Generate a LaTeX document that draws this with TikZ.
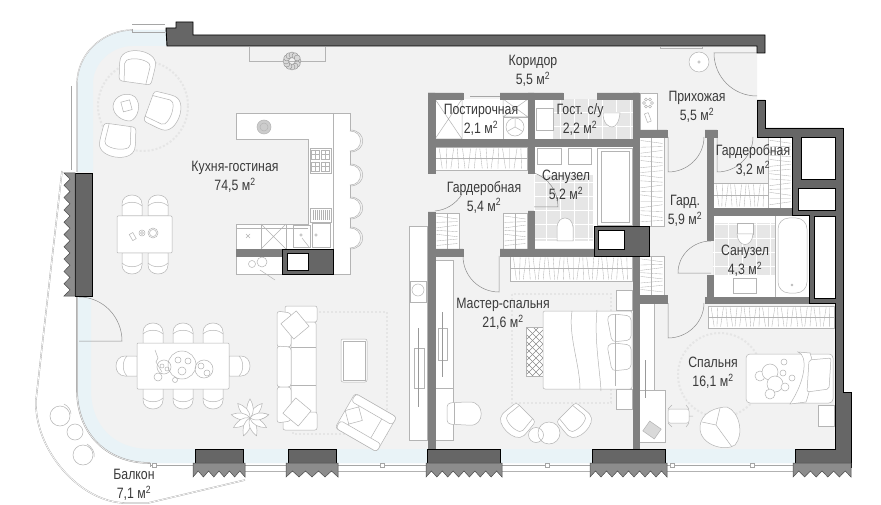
\documentclass[tikz,border=0pt]{standalone}
\usepackage{fontspec}
\setmainfont[FakeStretch=0.82]{Liberation Sans}
\definecolor{floorgrey}{HTML}{F2F2F2}
\definecolor{glassblue}{HTML}{E9F3F7}
\definecolor{walldark}{HTML}{666666}
\definecolor{wallmid}{HTML}{808080}
\definecolor{zigfill}{HTML}{8C8C8C}
\definecolor{tilegrey}{HTML}{E6E6E6}
\definecolor{furnline}{HTML}{B4B4B4}
\definecolor{textgrey}{HTML}{3A3A3A}
\newcommand{\kvm}{м\textsuperscript{2}}
\tikzset{
  outerwall/.style={fill=walldark,draw=black,line width=0.9pt},
  innerwall/.style={fill=wallmid,draw=wallmid,line width=0.3pt},
  zigwall/.style={fill=zigfill,draw=black!70,line width=0.5pt},
  furn/.style={draw=furnline,line width=0.5pt},
  cab/.style={furn,fill=white},
  hanger/.style={draw=furnline,line width=0.35pt},
  rugline/.style={draw=black!10,line width=2pt,dotted},
  glass/.style={draw=black!35,line width=0.6pt},
  doorline/.style={draw=black!45,line width=0.5pt},
  lbl/.style={text=textgrey,align=center,inner sep=0pt,font=\fontsize{15}{19}\selectfont},
  pics/dinechair/.style={code={
    \draw[cab] (-10,11) -- (-10,-1) .. controls (-10,-13) and (10,-13) .. (10,-1) -- (10,11) -- cycle;
    \draw[furn] (-10,1) .. controls (-5,-4) and (5,-4) .. (10,1);
  }},
  pics/armchair/.style={code={
    \draw[cab,rounded corners=3pt] (-16,15) -- (-18,-3) .. controls (-17,-21) and (17,-21) .. (18,-3) -- (16,15) -- cycle;
    \draw[furn,rounded corners=2pt] (-11,15) -- (-13,-5) .. controls (-6,-10) and (6,-10) .. (13,-5) -- (11,15);
  }},
  pics/stool/.style={code={
    \draw[cab] (0,-10) .. controls (14,-10) and (14,10) .. (0,10);
    \draw[furn] (0,-11) .. controls (17,-11) and (17,11) .. (0,11);
  }},
}
% walls with teeth on the outside
\newcommand{\zigdown}[3]{%
  \pgfmathsetmacro{\stp}{(#2-#1)/#3}
  \draw[zigwall] (#1,463) -- (#2,463) -- (#2,477)
    \foreach \k in {1,...,#3}{ -- ({#2-(\k-.5)*\stp},471) -- ({#2-\k*\stp},477)} -- cycle;
}
% wardrobes, hangers across or along
\newcommand{\closetv}[5]{%
  \draw[cab] (#1,#2) rectangle (#3,#4);
  \draw[hanger] (#1,{(#2+#4)/2}) -- (#3,{(#2+#4)/2});
  \foreach \k in {1,...,#5}
    \draw[hanger] ({#1+\k*(#3-#1)/(#5+1)-1.5*sin(\k*97)},#2+1.5) -- ({#1+\k*(#3-#1)/(#5+1)+1.5*sin(\k*97)},#4-1.5);
}
\newcommand{\closeth}[5]{%
  \draw[cab] (#1,#2) rectangle (#3,#4);
  \draw[hanger] ({(#1+#3)/2},#2) -- ({(#1+#3)/2},#4);
  \foreach \k in {1,...,#5}
    \draw[hanger] (#1+1.5,{#2+\k*(#4-#2)/(#5+1)-1.5*sin(\k*97)}) -- (#3-1.5,{#2+\k*(#4-#2)/(#5+1)+1.5*sin(\k*97)});
}
\begin{document}
\begin{tikzpicture}[x=1pt,y=-1pt]
  \useasboundingbox (0,0) rectangle (881,505);
  \fill[white] (0,0) rectangle (881,505);

  % balcony
  \draw[black!35,line width=1.4pt] (62,171) -- (36,400) .. controls (34,450) and (80,502) .. (125,503) -- (148,503) -- (245,480);
  \draw[white,line width=0.7pt] (62,171) -- (36,400) .. controls (34,450) and (80,502) .. (125,503) -- (148,503) -- (245,480);
  \foreach \x/\y/\r in {60/416/10,75/432/8,83/455/10}
    \draw[furn] (\x,\y) circle (\r);
  \draw[furn] (64,404) .. controls (68,406) and (71,410) .. (71,414);
  \draw[furn] (87,444) .. controls (92,447) and (95,452) .. (94,457);

  % floor and the band along the glass
  \fill[floorgrey] (132,30) -- (167,30) -- (167,46) -- (757,46) -- (757,137) -- (835,137) -- (835,450) -- (795,450) -- (795,463)
    -- (150,463) .. controls (105,463) and (77,432) .. (77,390) -- (77,84) .. controls (77,52) and (105,30) .. (132,30) -- cycle;
  \begin{scope}
    \clip (132,30) -- (167,30) -- (167,46) -- (757,46) -- (757,137) -- (835,137) -- (835,450) -- (795,450) -- (795,463)
    -- (150,463) .. controls (105,463) and (77,432) .. (77,390) -- (77,84) .. controls (77,52) and (105,30) .. (132,30) -- cycle;
    \draw[glassblue,line width=32pt] (77,172) -- (77,84) .. controls (77,52) and (105,30) .. (132,30) -- (170,30);
    \draw[glassblue,line width=28pt] (77,296) -- (77,390) .. controls (77,432) and (105,463) .. (150,463) -- (795,463);
  \end{scope}

  % rugs
  \draw[rugline] (143,106) circle (45);
  \draw[rugline] (293,312) rectangle (387,434);
  \draw[rugline] (512,294) rectangle (611,403);
  \draw[rugline] (720,375) circle (42);

  % white rooms and tiles
  \fill[white] (435,99) rectangle (528,139);
  \fill[white] (534,99) rectangle (633,139);
  \fill[white] (534,146) rectangle (633,249);
  \fill[white] (713,215) rectangle (809,297);
  \fill[tilegrey] (553,99) rectangle (633,139);
  \fill[tilegrey] (535,175) rectangle (593,241);
  \fill[tilegrey] (713,223) rectangle (776,275);
  \draw[white,line width=0.4pt,step=14pt] (553,99) grid (633,139);
  \draw[white,line width=0.4pt,step=14pt] (535,175) grid (593,241);
  \draw[white,line width=0.4pt,step=14pt] (713,223) grid (776,275);

  % lounge corner
  \pic[rotate=-8] at (137,68) {armchair};
  \pic[rotate=-110] at (163,111) {armchair};
  \pic[rotate=172] at (118,140) {armchair};
  \draw[cab] (113,106) .. controls (114,95) and (128,91) .. (135,97) .. controls (142,104) and (138,119) .. (130,121) .. controls (122,121) and (113,115) .. (113,106) -- cycle;
  \draw[furn,rotate around={15:(126,106)}] (122,101) rectangle (131,111);

  % small table
  \foreach \x in {132,158}{
    \pic at (\x,205) {dinechair};
    \pic[rotate=180] at (\x,264) {dinechair};
  }
  \draw[cab,rounded corners=1pt] (117,216) rectangle (172,253);
  \draw[furn] (153,233) circle (5) (153,233) circle (3.5) (142,233) circle (3) (142,233) circle (1.5);
  \draw[furn,rotate around={30:(133,237)}] (131,233) rectangle (135,240);

  % dining table
  \foreach \x in {153,183,213}{
    \pic at (\x,333) {dinechair};
    \pic[rotate=180] at (\x,399) {dinechair};
  }
  \pic[rotate=90] at (126,366) {dinechair};
  \pic[rotate=-90] at (240,366) {dinechair};
  \draw[cab,rounded corners=1pt] (137,343) rectangle (229,389);
  \draw[furn] (182,365) circle (14) (204,369) circle (9) (164,367) circle (7) (158,377) circle (4) (175,380) circle (2.5);
  \draw[furn] (155,350) -- (158,358) -- (156,362) -- (162,372);
  \foreach \x/\y/\r in {178/360/3,188/361/3,182/371/4,201/366/3,207/373/3,162/366/2,167/369/2}
    \draw[furn] (\x,\y) circle (\r);

  % plant
  \foreach \a in {10,50,...,370}
    \draw[furn,fill=white,rotate around={\a:(250,418)}] (250,418) .. controls (256,413) and (262,414) .. (269,418) .. controls (262,422) and (256,423) .. (250,418) -- cycle;

  % kitchen
  \draw[cab] (236,113) -- (350,113) -- (350,274) -- (236,274) -- (236,224) -- (308,224) -- (308,139) -- (236,139) -- cycle;
  \draw[furn] (333,113) -- (333,249) (236,228) -- (308,228) (261,224) -- (261,249) (286,224) -- (286,249);
  \draw[furn] (261,224) -- (286,249) (286,224) -- (261,249);
  \foreach \y in {141,175,208,238}
    \pic at (350,\y) {stool};
  \draw[furn,fill=black!20] (264,127) circle (7);
  \draw[furn] (264,127) circle (4);
  \draw[furn] (310,148) rectangle (331,173);
  \foreach \x/\y in {311/150,321/150,311/162,321/162}{
    \draw[furn] (\x,\y) rectangle ++(8,9);
    \draw[hanger] (\x,\y+4.5) -- ++(8,0) (\x+4,\y) -- ++(0,9);
  }
  \draw[furn] (310,208) rectangle (331,222);
  \foreach \x in {313,315,...,329}
    \draw[hanger] (\x,210) -- (\x,220);
  \draw[furn] (293,225) rectangle (310,247) (312,223) rectangle (330,247);
  \draw[furn] (301,235) circle (1.2) (316,235) circle (1.2) (302,238) -- (309,247);
  \draw[furn] (246,234) -- (250,238) (250,234) -- (246,238);
  \draw[furn] (252,264) circle (3.5) (262,262) circle (5) (260,270) -- (275,280);

  % sofa and armchair
  \draw[cab,rounded corners=2pt] (285,306) rectangle (317,322);
  \draw[cab,rounded corners=2pt] (291,322) rectangle (316,415);
  \draw[cab,rounded corners=2pt] (283,412) rectangle (317,430);
  \draw[cab,rounded corners=3pt] (277,311) -- (291,313) -- (291,347) -- (277,347) -- cycle;
  \draw[cab,rounded corners=3pt] (277,346) -- (291,347) -- (291,387) -- (277,387) -- cycle;
  \draw[cab,rounded corners=3pt] (277,387) -- (291,387) -- (291,421) -- (277,423) -- cycle;
  \draw[furn] (291,347) -- (316,347) (291,385) -- (316,385);
  \draw[cab,rotate around={40:(295,325)}] (285,315) rectangle (305,335);
  \draw[cab,rotate around={50:(297,412)}] (287,402) rectangle (307,422);
  \begin{scope}[rotate around={-30:(365,422)}]
    \draw[cab,rounded corners=3pt] (342,402) rectangle (390,442);
    \draw[cab,rounded corners=3pt] (343,402) rectangle (390,411);
    \draw[cab,rounded corners=3pt] (343,433) rectangle (390,442);
    \draw[furn] (352,411) -- (352,433) (378,411) -- (378,433);
    \draw[cab,rotate around={45:(352,422)}] (345,415) rectangle (359,429);
  \end{scope}
  \draw[cab,rounded corners=2pt] (341,339) rectangle (367,382);
  \draw[furn] (343,341) rectangle (365,380);

  % master bedroom
  \draw[cab] (409,226) rectangle (427,440);
  \draw[cab] (435,260) rectangle (453,388);
  \draw[cab] (435,388) rectangle (453,440);
  \draw[furn] (410,281) rectangle (426,302);
  \draw[furn] (418,290) circle (6);
  \draw[furn] (414,348) rectangle (424,388) (438,328) rectangle (447,360);
  \draw[black!40,line width=0.7pt] (418.5,328) -- (418.5,407) (442.5,312) -- (442.5,377);
  \draw[cab,rounded corners=4pt] (447,403) -- (466,402) .. controls (485,402) and (485,426) .. (466,425) -- (447,424) -- cycle;
  \draw[furn] (454,403) -- (454,424);
  \pic[rotate=135,scale=.85] at (517,421) {armchair};
  \pic[rotate=-135,scale=.85] at (575,421) {armchair};
  \draw[cab] (536,435) circle (7.5) (549,433) circle (11);
  \draw[cab] (616,290) rectangle (632,310) (616,389) rectangle (632,409);
  \begin{scope}
    \clip (526,327) rectangle (543,376);
    \fill[white] (526,327) rectangle (543,376);
    \foreach \k in {0,7,...,70}
      \draw[black!45,line width=0.4pt] (526,{320+\k}) -- (546,{340+\k}) (546,{320+\k}) -- (526,{340+\k});
  \end{scope}
  \draw[furn] (526,327) rectangle (543,376);
  \draw[cab,rounded corners=2pt] (543,311) rectangle (632,389);
  \draw[furn] (572,311) .. controls (568,335) and (580,365) .. (580,389) (597,310) .. controls (594,340) and (600,370) .. (601,391);
  \foreach \y in {316,345}
    \draw[cab,rounded corners=4pt] (607,\y) -- (614,\y-2) -- (631,\y) -- (631,\y+24) -- (612,\y+26) -- cycle;
  \draw[furn] (615,314) -- (615,386);

  % small bedroom
  \draw[cab] (639,303) rectangle (654,390);
  \draw[cab] (639,390) rectangle (665,442);
  \draw[black!40,line width=0.7pt] (645,360) -- (645,398);
  \draw[furn,fill=black!15,rotate around={-35:(652,430)}] (645,424) rectangle (659,436);
  \draw[cab,rounded corners=2pt] (668,409) rectangle (689,423);
  \draw[furn] (672,405) -- (668,409) (686,405) -- (689,409) (672,427) -- (668,423) (686,427) -- (689,423) (689,416) -- (693,416);
  \draw[cab] (700,428) .. controls (700,412) and (717,407) .. (727,407) .. controls (740,412) and (744,435) .. (735,445) .. controls (725,452) and (700,445) .. (700,428) -- cycle;
  \draw[furn] (720,408) -- (716,425) -- (732,447) (716,425) -- (702,422);
  \draw[cab] (818,405) rectangle (834,426);
  \draw[cab,rounded corners=4pt] (746,354) -- (833,354) -- (833,403) -- (746,403) -- cycle;
  \draw[cab] (798,352) .. controls (808,355) and (806,380) .. (790,404) -- (806,402) .. controls (812,385) and (815,365) .. (810,353) -- cycle;
  \draw[cab,rounded corners=2pt] (809,360) -- (831,358) -- (829,389) -- (807,392) -- cycle;
  \foreach \x/\y/\r in {760/376/5,770/372/8,775/384/8,770/394/5,783/373/3,785/387/4,792/378/3,784/362/3}
    \draw[furn,fill=white] (\x,\y) circle (\r);

  % wardrobes
  \closetv{435}{147}{527}{170}{15}
  \closetv{510}{256}{632}{281}{24}
  \closetv{713}{183}{768}{208}{11}
  \closetv{708}{306}{834}{328}{26}
  \closeth{435}{213}{459}{249}{7}
  \closeth{503}{213}{527}{249}{7}
  \closeth{639}{137}{664}{226}{17}
  \closeth{639}{256}{664}{295}{8}
  \closeth{768}{137}{792}{208}{14}

  % laundry and guest wc
  \draw[furn] (435,99) rectangle (462,139) (435,99) -- (462,139) (462,99) -- (435,139);
  \draw[furn] (503,99) rectangle (528,117) (503,99) -- (528,117) (528,99) -- (503,117);
  \draw[furn] (503,117) rectangle (528,139);
  \draw[furn] (515,127) circle (9) (515,127) -- (515,119) (515,127) -- (508,131) (515,127) -- (522,131);
  \draw[furn,line width=0.8pt] (536,108) rectangle (553,130);
  \draw[cab] (603,113) .. controls (603,124) and (609,127) .. (612,127) .. controls (616,127) and (619,122) .. (620,113) -- cycle;
  \draw[cab] (640,93) rectangle (657,130);
  \draw[furn,rotate around={20:(648,118)}] (646,113) rectangle (650,122);
  \foreach \a in {0,60,...,300}
    \draw[furn] (648,103) ++(\a:4) circle (1.5);

  % second bath rooms
  \draw[furn,line width=0.7pt] (537,148) rectangle (561,164) (568,148) rectangle (591,164);
  \draw[furn,line width=0.8pt] (597,148) rectangle (632,225);
  \draw[furn] (601,151) -- (629,151) -- (629,222) -- (601,222) -- cycle;
  \draw[cab] (557,241) -- (557,227) .. controls (558,215) and (572,215) .. (573,227) -- (573,241) -- cycle;
  \draw[cab] (737,223) rectangle (753,234);
  \draw[cab] (737,234) .. controls (738,248) and (752,248) .. (753,234) -- cycle;
  \draw[furn,line width=0.7pt] (733,278) rectangle (756,293);
  \draw[furn] (775,215) -- (775,297);
  \draw[cab,rounded corners=11pt] (778,218) rectangle (807,293);
  \draw[furn] (792,285) circle (1);

  % chandelier and lamp
  \draw[furn] (249,47) -- (249,61) -- (325,61) -- (325,47);
  \foreach \a in {0,30,...,330}
    \draw[black!45,fill=black!15,line width=0.4pt] (292,61) ++(\a:6) circle (3);
  \draw[cab] (699,62) circle (10);
  \draw[furn] (699,62) circle (1.2);
  \draw[furn] (660,47) -- (660,48) -- (702,48) -- (702,47);

  % doors
  \draw[doorline] (757,53) -- (714,53) .. controls (714,77) and (733,96) .. (757,96);
  \draw[doorline] (79,341) -- (122,341) .. controls (122,317) and (103,297) .. (79,297);
  \draw[doorline] (668,137) -- (668,172) .. controls (688,172) and (704,156) .. (704,137);
  \draw[doorline] (717,137) -- (717,172) .. controls (737,172) and (753,156) .. (753,137);
  \draw[doorline] (711,273) -- (678,273) .. controls (678,255) and (693,241) .. (711,241);
  \draw[doorline] (668,303) -- (668,338) .. controls (688,338) and (704,322) .. (704,303);
  \draw[doorline] (499,256) -- (499,292) .. controls (479,292) and (463,276) .. (463,256);
  \draw[doorline] (435,211) .. controls (446,210) and (456,204) .. (462,194);
  \draw[doorline] (534,207) -- (558,207) .. controls (558,192) and (549,178) .. (534,173);
  \draw[glass] (470,96) -- (500,96);

  % windows
  \draw[glass] (132,24) -- (165,24) (132,29) -- (132,32) -- (165,32);
  \draw[black!30,line width=1.2pt] (77,172) -- (77,84) .. controls (77,52) and (105,30) .. (132,30);
  \draw[white,line width=0.4pt] (77,172) -- (77,84) .. controls (77,52) and (105,30) .. (132,30);
  \draw[glass] (71,86) -- (71,170);
  \draw[black!35,line width=1.6pt] (77,296) -- (77,390) .. controls (77,432) and (105,463) .. (150,463);
  \draw[white,line width=0.5pt] (77,296) -- (77,390) .. controls (77,432) and (105,463) .. (150,463);
  \draw[glass] (150,465) -- (795,465) (150,467) -- (150,463);
  \draw[black!30,line width=1pt] (245,471) -- (795,471);
  \foreach \x in {152,380,545,670,750}
    \draw[glass,fill=white] (\x,463) rectangle ++(4,4);

  % walls
  \draw[innerwall] (428,93) rectangle (463,99) (500,93) rectangle (563,99) (597,93) rectangle (639,99);
  \draw[innerwall] (428,93) rectangle (435,173) (528,93) rectangle (534,173) (633,93) rectangle (639,226);
  \draw[innerwall] (428,139) rectangle (633,146);
  \draw[innerwall] (428,212) rectangle (435,450) (528,211) rectangle (534,250);
  \draw[innerwall] (428,249) rectangle (463,256) (500,249) rectangle (594,256);
  \draw[innerwall] (633,256) rectangle (639,450);
  \draw[innerwall] (639,130) rectangle (667,137) (639,295) rectangle (667,303);
  \draw[innerwall] (707,130) rectangle (713,240) (707,275) rectangle (713,297) (705,130) rectangle (717,137);
  \draw[innerwall] (713,208) rectangle (792,215);
  \draw[innerwall] (705,297) rectangle (809,303);
  \draw[outerwall] (166,28) -- (176,28) -- (176,22) -- (193,22) -- (193,35) -- (765,35) -- (765,53) -- (757,53) -- (757,46) -- (167,46) -- cycle;
  \draw[outerwall] (757,100) -- (765,100) -- (765,128) -- (843,128) -- (843,392) -- (851,392) -- (851,467) -- (795,467) -- (795,449) -- (835,449)
    -- (835,303) -- (809,303) -- (809,215) -- (792,215) -- (792,137) -- (757,137) -- cycle;
  \foreach \xa/\ya/\xb/\yb in {801/137/835/179,798/188/835/210,814/216/835/298}
    \draw[black,fill=white,line width=0.9pt] (\xa,\ya) rectangle (\xb,\yb);
  \draw[outerwall] (594,226) rectangle (649,256);
  \draw[black,fill=white,line width=0.9pt] (598,230) rectangle (624,249);
  \draw[innerwall] (236,249) rectangle (282,256);
  \draw[outerwall] (282,249) rectangle (333,274);
  \draw[black,fill=white,line width=0.9pt] (287,253) rectangle (308,270);
  \draw[outerwall] (75,173) -- (92,173) -- (92,296) -- (75,296) -- cycle;
  \draw[zigwall] (75,173) -- (64,173)
    \foreach \k in {1,...,10}{ -- (70,{173+(\k-.5)*12.3}) -- (64,{173+\k*12.3})} -- (75,296) -- cycle;
  \foreach \xa/\xb in {195/243,288/336,427/500,592/665}
    \draw[outerwall] (\xa,449) -- (\xb,449) -- (\xb,463) -- (\xa,463) -- cycle;
  \zigdown{193}{245}{5}
  \zigdown{286}{338}{4}
  \zigdown{426}{502}{7}
  \zigdown{590}{667}{7}
  \zigdown{793}{851}{5}

  % room labels
  \node[lbl] (kitchen) at (235,177) {Кухня-гостиная\\74,5 \kvm};
  \node[lbl] (corridor) at (533,71) {Коридор\\5,5 \kvm};
  \node[lbl] (laundry) at (481,120) {Постирочная\\2,1 \kvm};
  \node[lbl] (guestwc) at (580,120) {Гост. с/у\\2,2 \kvm};
  \node[lbl] (hall) at (697,107) {Прихожая\\5,5 \kvm};
  \node[lbl] (dressa) at (753,160) {Гардеробная\\3,2 \kvm};
  \node[lbl] (dressb) at (484,197) {Гардеробная\\5,4 \kvm};
  \node[lbl] (bathb) at (566,186) {Санузел\\5,2 \kvm};
  \node[lbl] (dressc) at (685,211) {Гард.\\5,9 \kvm};
  \node[lbl] (batha) at (745,261) {Санузел\\4,3 \kvm};
  \node[lbl] (master) at (503,314) {Мастер-спальня\\21,6 \kvm};
  \node[lbl] (bedroom) at (713,373) {Спальня\\16,1 \kvm};
  \node[lbl] (balcony) at (134,485) {Балкон\\7,1 \kvm};
\end{tikzpicture}
\end{document}
